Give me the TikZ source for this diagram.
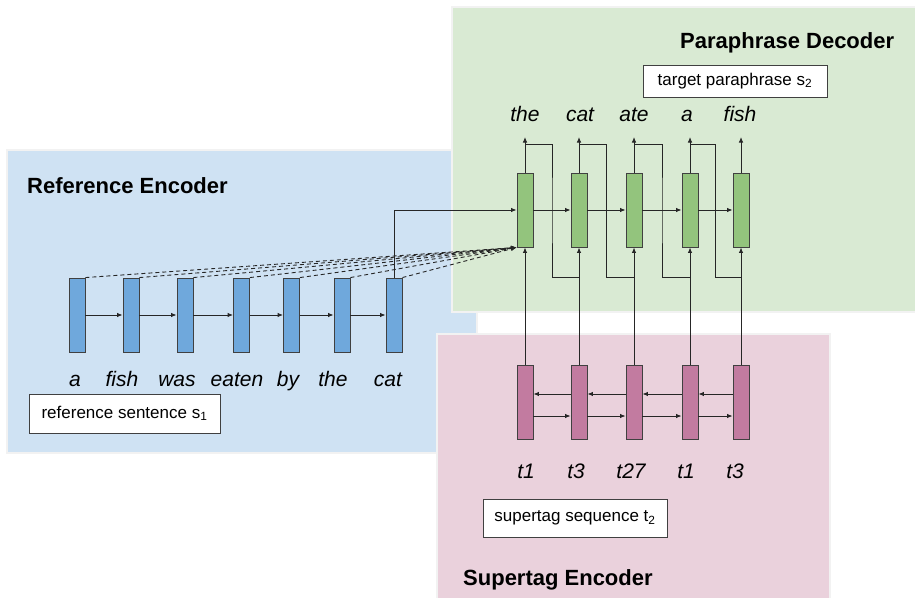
\documentclass[tikz,border=0pt]{standalone}
\usepackage{fontspec}
\setmainfont{Liberation Sans}
\usetikzlibrary{arrows.meta,calc}

\definecolor{refback}{HTML}{CFE2F3}
\definecolor{refcell}{HTML}{6FA8DC}
\definecolor{decback}{HTML}{D9EAD3}
\definecolor{deccell}{HTML}{93C47D}
\definecolor{tagback}{HTML}{EAD1DC}
\definecolor{tagcell}{HTML}{C27BA0}

\begin{document}
\begin{tikzpicture}[x=1pt, y=-1pt, >={Latex[length=5.5pt,width=4.5pt]},
	rnncell/.style={draw=black!75, line width=0.9pt, minimum width=16pt, minimum height=74pt, inner sep=0pt},
	tokword/.style={font=\fontsize{21}{25}\selectfont\itshape, anchor=base, inner sep=0pt},
	panelname/.style={font=\fontsize{22}{26}\selectfont\bfseries, anchor=base west, inner sep=0pt},
	seqbox/.style={draw=black!75, fill=white, line width=0.9pt, font=\fontsize{17}{20}\selectfont, inner sep=0pt},
	conn/.style={draw=black!85, line width=0.9pt}]
	\useasboundingbox (0,0) rectangle (915,597);
	% panels
	\filldraw[fill=refback, draw=black!5, line width=1.5pt] (7,150) rectangle (477,453);
	\filldraw[fill=decback, draw=black!5, line width=1.5pt] (452,7) rectangle (918,312);
	\filldraw[fill=tagback, draw=black!5, line width=1.5pt] (437,334) rectangle (830,600);
	\node[panelname] (reftitle) at (27,193) {Reference Encoder};
	\node[panelname] (dectitle) at (680,48) {Paraphrase Decoder};
	\node[panelname] (tagtitle) at (463,585) {Supertag Encoder};
	% cells
	\foreach \n/\x in {1/77,2/131,3/185,4/241.5,5/291.5,6/342,7/394}
		\node[rnncell, fill=refcell] (ref\n) at (\x,315) {};
	\foreach \n/\x in {1/525,2/579,3/634,4/690,5/741} {
		\node[rnncell, fill=deccell] (dec\n) at (\x,210) {};
		\node[rnncell, fill=tagcell] (tag\n) at (\x,402.5) {};
		\coordinate (out\n) at (dec\n |- 0,137);
	}
	% recurrences
	\foreach \i/\j in {1/2,2/3,3/4,4/5,5/6,6/7}
		\draw[conn, ->] (ref\i.east) -- (ref\j.west);
	\foreach \i/\j in {1/2,2/3,3/4,4/5} {
		\draw[conn, ->] (dec\i.east) -- (dec\j.west);
		\draw[conn, ->] ([yshift=-13.5pt]tag\i.east) -- ([yshift=-13.5pt]tag\j.west);
		\draw[conn, ->] ([yshift=8.5pt]tag\j.west) -- ([yshift=8.5pt]tag\i.east);
		\draw[conn] (dec\i |- 0,144) -| ($(dec\i)!.5!(dec\j)$) |- (dec\j |- 0,277);
	}
	\foreach \n in {1,...,5} {
		\draw[conn, ->] (tag\n.north) -- (dec\n.south);
		\draw[conn, ->] (dec\n.north) -- (out\n);
	}
	% attention
	\draw[conn, ->] (ref7.north) |- (dec1.west);
	\foreach \n in {1,...,7}
		\draw[conn, dash pattern=on 4pt off 3pt, ->] (ref\n.north east) -- (dec1.south west);
	% words
	\foreach \n/\x/\w in {1/75/a,2/122/fish,3/177/was,4/237/eaten,5/288/by,6/333/the,7/388/cat}
		\node[tokword] (rw\n) at (\x,386) {\w};
	\foreach \n/\x/\w in {1/525/the,2/580/cat,3/634/ate,4/687/a,5/740/fish}
		\node[tokword] (dw\n) at (\x,121) {\w};
	\foreach \n/\x/\w in {1/526/t1,2/576/t3,3/631/t27,4/686/t1,5/735/t3}
		\node[tokword] (tw\n) at (\x,478) {\w};
	\node[seqbox, minimum width=191pt, minimum height=39pt] (refbox) at (124.5,413.5) {reference sentence s\textsubscript{1}};
	\node[seqbox, minimum width=184pt, minimum height=32pt] (decbox) at (735,81) {target paraphrase s\textsubscript{2}};
	\node[seqbox, minimum width=184pt, minimum height=38pt] (tagbox) at (575,518) {supertag sequence t\textsubscript{2}};
\end{tikzpicture}
\end{document}
